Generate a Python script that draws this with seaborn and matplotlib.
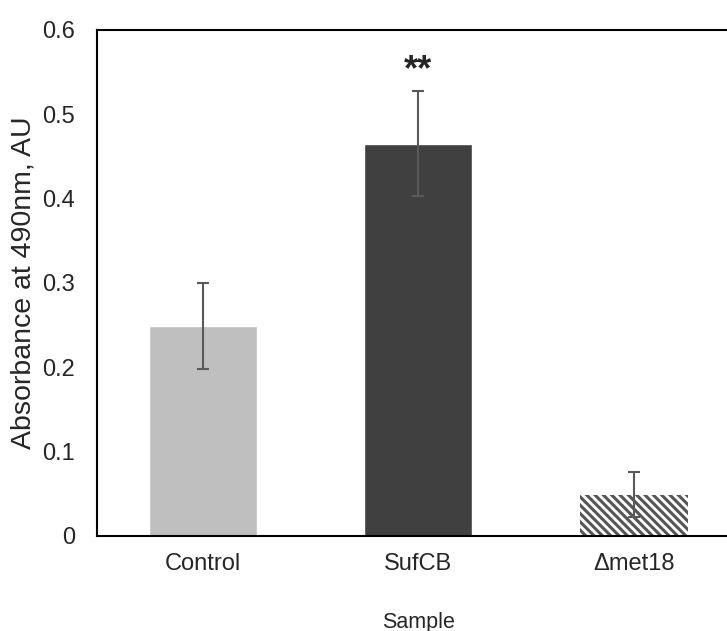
import pandas as pd
import numpy as np
import seaborn as sns
import matplotlib.pyplot as plt

samples = ["Control", "SufCB", "\u0394met18"]
absorbance = [0.249, 0.465, 0.049]
errors = [0.051, 0.062, 0.027]
bar_colors = ["#bfbfbf", "#404040", "#ffffff"]

sns.set_style("white")
plt.rcParams['font.family'] = ['Liberation Sans', 'DejaVu Sans']
plt.rcParams['hatch.linewidth'] = 2.2

data = pd.DataFrame({'Sample': samples, 'Absorbance': absorbance})

fig = plt.figure(figsize=(7.27, 6.31), dpi=100)
ax = fig.add_axes([0.1334, 0.1506, 0.884, 0.802])
sns.barplot(x='Sample', y='Absorbance', data=data, hue='Sample', palette=bar_colors,
            width=0.5, errorbar=None, legend=False, ax=ax, saturation=1)
# striped bar for the deletion strain
ax.patches[2].set_hatch('\\\\\\\\')
ax.patches[2].set_edgecolor('#555555')
ax.patches[2].set_linewidth(0)

ax.errorbar(range(len(samples)), absorbance, yerr=errors, fmt='none',
            ecolor='#595959', elinewidth=1.5, capsize=4.5, capthick=1.5)
ax.text(1, 0.552, '**', ha='center', va='center', fontsize=26, fontweight='bold')

ax.set_xlim(-0.49, 2.49)
ax.set_ylim(0, 0.6)
ax.set_yticks([0, 0.1, 0.2, 0.3, 0.4, 0.5, 0.6])
ax.set_yticklabels(['0', '0.1', '0.2', '0.3', '0.4', '0.5', '0.6'])
ax.tick_params(axis='both', length=0, labelsize=17)
ax.tick_params(axis='x', pad=12)
ax.tick_params(axis='y', pad=16)
ax.set_xlabel('Sample', fontsize=15.5, labelpad=27)
ax.set_ylabel('Absorbance at 490nm, AU', fontsize=20.5, labelpad=4)
for side in ['left', 'top', 'bottom', 'right']:
    ax.spines[side].set_color('black')
    ax.spines[side].set_linewidth(1.5)

plt.savefig('out.png', dpi=100)
